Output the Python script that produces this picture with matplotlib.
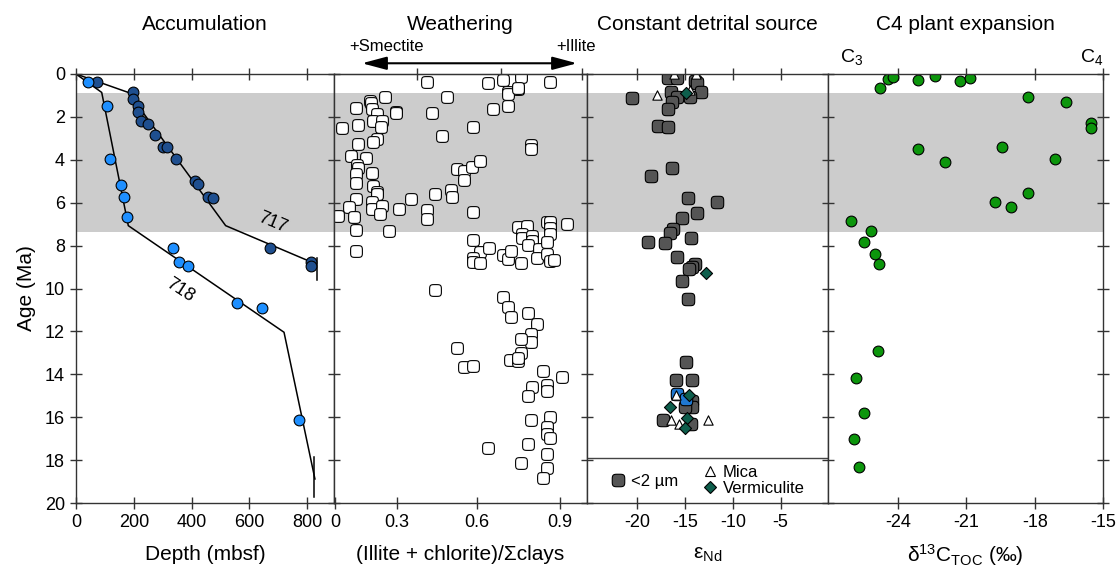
import numpy as np
import matplotlib
matplotlib.use('Agg')
import matplotlib.pyplot as plt
from matplotlib.path import Path
from matplotlib.lines import Line2D

plt.rcParams['font.family'] = ['Liberation Sans', 'DejaVu Sans']
plt.rcParams['mathtext.fontset'] = 'custom'
plt.rcParams['mathtext.rm'] = 'Liberation Sans'
plt.rcParams['mathtext.it'] = 'Liberation Sans:italic'
plt.rcParams['mathtext.bf'] = 'Liberation Sans:bold'

# ---------------- data ----------------
titles = ["Accumulation", "Weathering", "Constant detrital source", "C4 plant expansion"]
age_ticks = [0, 2, 4, 6, 8, 10, 12, 14, 16, 18, 20]
band_age = (0.9, 7.38)

# Accumulation (depth mbsf vs age Ma)
site717_depth = [72, 196, 196, 213, 213, 225, 250, 273, 302, 316, 345, 412, 423, 458, 475, 672, 813, 813]
site717_age = [0.37, 0.84, 1.15, 1.48, 1.79, 2.19, 2.35, 2.84, 3.42, 3.42, 3.96, 4.99, 5.14, 5.72, 5.80, 8.13, 8.75, 8.94]
site717_model_depth = [0, 181, 518, 831]
site717_model_age = [0, 0.86, 7.07, 8.86]
site717_end_depth = [833, 833]
site717_end_age = [8.56, 9.6]

site718_depth = [40, 106, 118, 155, 166, 178, 337, 357, 387, 558, 643, 773]
site718_age = [0.37, 1.48, 3.96, 5.17, 5.72, 6.68, 8.13, 8.78, 8.94, 10.69, 10.93, 16.13]
site718_model_depth = [0, 89, 181, 720, 827]
site718_model_age = [0, 0.86, 7.07, 12.04, 18.88]
site718_end_depth = [824, 824]
site718_end_age = [17.84, 19.7]

# Weathering: (illite + chlorite)/sum clays
clay_ratio = [0.367, 0.613, 0.672, 0.744, 0.86, 0.731, 0.693, 0.693, 0.731, 0.693, 0.633, 0.448,
              0.387, 0.243, 0.243, 0.201, 0.14, 0.144, 0.084, 0.147, 0.167, 0.093, 0.029, 0.153,
              0.187, 0.183, 0.167, 0.153, 0.093, 0.429, 0.551, 0.784, 0.784, 0.064, 0.124, 0.087,
              0.093, 0.084, 0.084, 0.147, 0.153, 0.167, 0.167, 0.084, 0.056, 0.013, 0.076, 0.147,
              0.147, 0.187, 0.18, 0.084, 0.215, 0.256, 0.304, 0.367, 0.367, 0.40, 0.464, 0.469,
              0.489, 0.517, 0.517, 0.547, 0.58, 0.551, 0.084, 0.551, 0.58, 0.617, 0.551, 0.553,
              0.58, 0.673, 0.693, 0.704, 0.744, 0.731, 0.767, 0.747, 0.747, 0.787, 0.787, 0.773,
              0.817, 0.809, 0.847, 0.86, 0.86, 0.86, 0.847, 0.847, 0.86, 0.876, 0.929,
              0.40, 0.671, 0.693, 0.703, 0.773, 0.807, 0.784, 0.784, 0.743, 0.743, 0.70, 0.731,
              0.731, 0.489, 0.517, 0.551, 0.833, 0.909, 0.847, 0.847, 0.787, 0.771, 0.86, 0.784,
              0.847, 0.847, 0.86, 0.613, 0.771, 0.847, 0.743, 0.847, 0.833]
clay_age = [0.36, 0.44, 0.28, 0.13, 0.36, 0.71, 0.82, 0.95, 0.67, 1.49, 1.65, 1.09,
            1.80, 1.76, 1.80, 1.09, 1.25, 1.34, 1.57, 1.65, 1.88, 2.38, 2.53, 2.18,
            2.18, 2.46, 3.05, 3.19, 3.26, 2.89, 2.46, 3.31, 3.50, 3.81, 3.90, 4.24,
            4.40, 4.68, 5.10, 4.63, 5.22, 5.49, 5.59, 5.83, 6.22, 6.61, 6.68, 5.95,
            6.29, 6.14, 6.53, 7.27, 7.32, 6.29, 5.83, 6.34, 6.76, 5.59, 5.41, 5.72,
            4.45, 4.52, 4.94, 4.35, 4.06, 6.45, 8.24, 7.74, 8.29, 8.13, 8.56, 8.75,
            8.83, 8.44, 8.64, 8.24, 8.83, 7.15, 7.09, 7.46, 7.66, 7.53, 7.77, 7.97,
            8.18, 8.60, 6.89, 6.92, 7.20, 7.48, 7.82, 8.41, 8.72, 8.67, 7.01,
            10.07, 10.38, 10.85, 11.31, 11.16, 11.65, 12.14, 12.51, 12.37, 12.99, 13.33, 13.38,
            13.26, 12.76, 13.68, 13.60, 13.83, 14.14, 14.50, 14.78, 14.61, 15.01, 15.98, 16.13,
            16.44, 16.76, 16.96, 17.42, 17.27, 17.73, 18.12, 18.38, 18.85]
clay_ticks = [0, 0.248, 0.568, 0.9]
clay_ticklabels = ["0", "0.3", "0.6", "0.9"]
clay_top_ticks = [0.328, 0.664, 0.988]

# Constant detrital source: eps Nd
nd_clay_eps = [-16.83, -15.89, -13.98, -13.74, -13.28, -16.48, -15.79, -14.5, -16.34, -20.52,
               -16.83, -17.87, -16.83, -16.41, -18.57, -14.74, -11.65, -13.7, -15.28, -16.3,
               -16.59, -14.39, -18.85, -17.13, -15.79, -13.98, -14.26, -14.57, -15.31,
               -14.68, -14.95, -15.99, -14.32, -14.26, -14.26, -15.02, -17.27, -14.39]
nd_clay_age = [0.17, 0.17, 0.33, 0.44, 0.82, 0.82, 1.06, 1.06, 1.29, 1.13,
               1.65, 2.41, 2.46, 4.40, 4.76, 5.77, 5.97, 6.50, 6.73, 7.24,
               7.43, 7.63, 7.85, 7.90, 8.55, 8.88, 8.99, 9.11, 9.64,
               10.50, 13.41, 14.27, 14.27, 15.24, 15.51, 15.51, 16.13, 16.33]
nd_blue_eps = [-15.89, -14.92]
nd_blue_age = [14.9, 15.15]
nd_mica_eps = [-16.17, -13.9, -17.91, -14.5, -15.99, -16.48, -15.65, -12.58]
nd_mica_age = [0.02, 0.02, 0.98, 0.75, 14.97, 16.13, 16.31, 16.13]
nd_verm_eps = [-14.92, -12.83, -14.57, -16.59, -14.78, -15.02]
nd_verm_age = [0.90, 9.29, 14.97, 15.54, 16.05, 16.52]
nd_ticks = [-20, -15, -10, -5]
nd_legend_line_age = 17.9

# C4 plant expansion: d13C TOC
toc_d13c = [-24.79, -24.46, -24.22, -23.12, -22.38, -21.30, -20.86, -18.29, -16.62, -15.52,
            -15.52, -23.12, -21.94, -19.43, -17.12, -18.29, -19.75, -19.03, -26.07, -25.17,
            -25.49, -25.01, -24.83, -24.88, -25.85, -25.51, -25.92, -25.73]
toc_age = [0.67, 0.25, 0.16, 0.28, 0.09, 0.33, 0.17, 1.06, 1.32, 2.27,
           2.53, 3.51, 4.09, 3.42, 3.98, 5.53, 5.95, 6.19, 6.84, 7.32,
           7.82, 8.39, 8.88, 12.91, 14.16, 15.79, 17.02, 18.31]
toc_ticks = [-24, -21, -18, -15]

# ---------------- styling helpers ----------------
def rounded_square(n=4.2, pts=96):
    t = np.linspace(0, 2 * np.pi, pts, endpoint=False)
    c, s = np.cos(t), np.sin(t)
    x = np.sign(c) * np.abs(c) ** (2.0 / n)
    y = np.sign(s) * np.abs(s) ** (2.0 / n)
    v = np.column_stack([x, y])
    v = np.vstack([v, v[:1]])
    return Path(v, closed=True)

RSQ = rounded_square()
SPINE = '#333333'
BAND = '#cccccc'

W, H = 1119, 569
edges = [76, 334, 587, 828, 1103]
ytop, ybot = 74, 503

fig = plt.figure(figsize=(W / 100, H / 100), dpi=100)
axes = []
for i in range(4):
    ax = fig.add_axes([edges[i] / W, 1 - ybot / H, (edges[i + 1] - edges[i]) / W, (ybot - ytop) / H])
    ax.set_ylim(20, 0)
    ax.set_yticks(age_ticks)
    ax.axhspan(band_age[0], band_age[1], color=BAND, lw=0, zorder=0)
    for sp in ax.spines.values():
        sp.set_color(SPINE)
        sp.set_linewidth(1.0)
        sp.set_zorder(5)
    ax.tick_params(direction='inout', length=8, width=1, colors=SPINE, labelcolor='black',
                   labelsize=13, pad=4, top=True, bottom=True, left=True, right=False)
    ax.text(0.5, 1 + (ytop - 24) / (ybot - ytop), titles[i], transform=ax.transAxes,
            ha='center', va='center', fontsize=15)
    if i > 0:
        ax.tick_params(labelleft=False)
    axes.append(ax)

ax1, ax2, ax3, ax4 = axes

# Panel 1
ax1.set_xlim(0, 893)
ax1.set_xticks([0, 200, 400, 600, 800])
ax1.plot(site717_model_depth, site717_model_age, color='black', lw=1.1, zorder=2)
ax1.plot(site718_model_depth, site718_model_age, color='black', lw=1.1, zorder=2)
ax1.plot(site717_end_depth, site717_end_age, color='black', lw=1.1, zorder=2)
ax1.plot(site718_end_depth, site718_end_age, color='black', lw=1.1, zorder=2)
ax1.scatter(site717_depth, site717_age, s=60, color='#1f4f8f', edgecolors='black', linewidths=0.8, zorder=3)
ax1.scatter(site718_depth, site718_age, s=60, color='#1e8fff', edgecolors='black', linewidths=0.8, zorder=3)
ax1.text(682, 6.95, '717', rotation=-23, ha='center', va='center', fontsize=13)
ax1.text(360, 10.07, '718', rotation=-33, ha='center', va='center', fontsize=13)
ax1.set_ylabel('Age (Ma)', fontsize=15, labelpad=6)
ax1.tick_params(axis='y', pad=4)
ax1.text(0.5, -52 / (ybot - ytop), 'Depth (mbsf)', transform=ax1.transAxes, ha='center', va='center', fontsize=15)

# Panel 2
ax2.set_xlim(-0.004, 1.008)
ax2.set_xticks(clay_ticks)
ax2.set_xticklabels(clay_ticklabels)
ax2.tick_params(axis='x', top=False)
sec = ax2.secondary_xaxis('top')
sec.set_xticks(clay_top_ticks)
sec.tick_params(direction='inout', length=8, width=1, colors=SPINE, labeltop=False)
sec.spines['top'].set_color(SPINE)
ax2.scatter(clay_ratio, clay_age, s=72, marker=RSQ, facecolor='white', edgecolors='black', linewidths=0.8, zorder=3)
ax2.annotate('', xy=(0.968, -0.5), xytext=(0.108, -0.5), xycoords='data',
             arrowprops=dict(arrowstyle='<|-|>,head_length=0.75,head_width=0.2', color='black',
                             lw=1.5, mutation_scale=20, shrinkA=0, shrinkB=0),
             annotation_clip=False)
ax2.text(0.208, -1.26, '+Smectite', ha='center', va='center', fontsize=12, clip_on=False)
ax2.text(0.964, -1.26, '+Illite', ha='center', va='center', fontsize=12, clip_on=False)
ax2.text(0.5, -52 / (ybot - ytop), '(Illite + chlorite)/Σclays', transform=ax2.transAxes,
         ha='center', va='center', fontsize=15)

# Panel 3
ax3.set_xlim(-25.25, -0.05)
ax3.set_xticks(nd_ticks)
ax3.set_xticklabels([str(t) for t in nd_ticks])
ax3.axhline(nd_legend_line_age, color='#444444', lw=1.0, zorder=2)
ax3.scatter(nd_clay_eps, nd_clay_age, s=80, marker=RSQ, color='#555555', edgecolors='black', linewidths=0.8, zorder=3)
ax3.scatter(nd_blue_eps, nd_blue_age, s=80, marker=RSQ, color='#1f78d1', edgecolors='black', linewidths=0.8, zorder=3)
ax3.scatter(nd_mica_eps, nd_mica_age, s=45, marker='^', color='white', edgecolors='black', linewidths=0.8, zorder=4)
ax3.scatter(nd_verm_eps, nd_verm_age, s=38, marker='D', color='#0d5e4c', edgecolors='black', linewidths=0.8, zorder=5)
h1 = [Line2D([], [], ls='none', marker=RSQ, markersize=9, markerfacecolor='#555555', markeredgecolor='black', markeredgewidth=0.8)]
leg1 = ax3.legend(h1, ['<2 µm'], loc='center left', bbox_to_anchor=(0.06, 0.051), frameon=False,
                  fontsize=12, handletextpad=0.3, borderpad=0, handlelength=1.0)
ax3.add_artist(leg1)
h2 = [Line2D([], [], ls='none', marker='^', markersize=7, markerfacecolor='white', markeredgecolor='black', markeredgewidth=0.8),
      Line2D([], [], ls='none', marker='D', markersize=6, markerfacecolor='#0d5e4c', markeredgecolor='black', markeredgewidth=0.8)]
ax3.legend(h2, ['Mica', 'Vermiculite'], loc='center left', bbox_to_anchor=(0.44, 0.052), frameon=False,
           fontsize=12, handletextpad=0.3, borderpad=0, handlelength=1.0, labelspacing=0.05)
ax3.text(0.5, -52 / (ybot - ytop), 'ε$_{\\mathrm{Nd}}$', transform=ax3.transAxes,
         ha='center', va='center', fontsize=15)

# Panel 4
ax4.set_xlim(-27.08, -15)
ax4.set_xticks(toc_ticks)
ax4.set_xticklabels([str(t) for t in toc_ticks])
ax4.tick_params(axis='y', right=True)
ax4.scatter(toc_d13c, toc_age, s=60, color='#0c960c', edgecolors='black', linewidths=0.8, zorder=3)
ax4.text(-26.56, -0.8, 'C$_3$', ha='left', va='center', fontsize=14, clip_on=False)
ax4.text(-15.0, -0.8, 'C$_4$', ha='right', va='center', fontsize=14, clip_on=False)
ax4.text(0.5, -52 / (ybot - ytop), 'δ$^{13}$C$_{\\mathrm{TOC}}$ (‰)', transform=ax4.transAxes,
         ha='center', va='center', fontsize=15)

fig.savefig('out.png', dpi=100)
